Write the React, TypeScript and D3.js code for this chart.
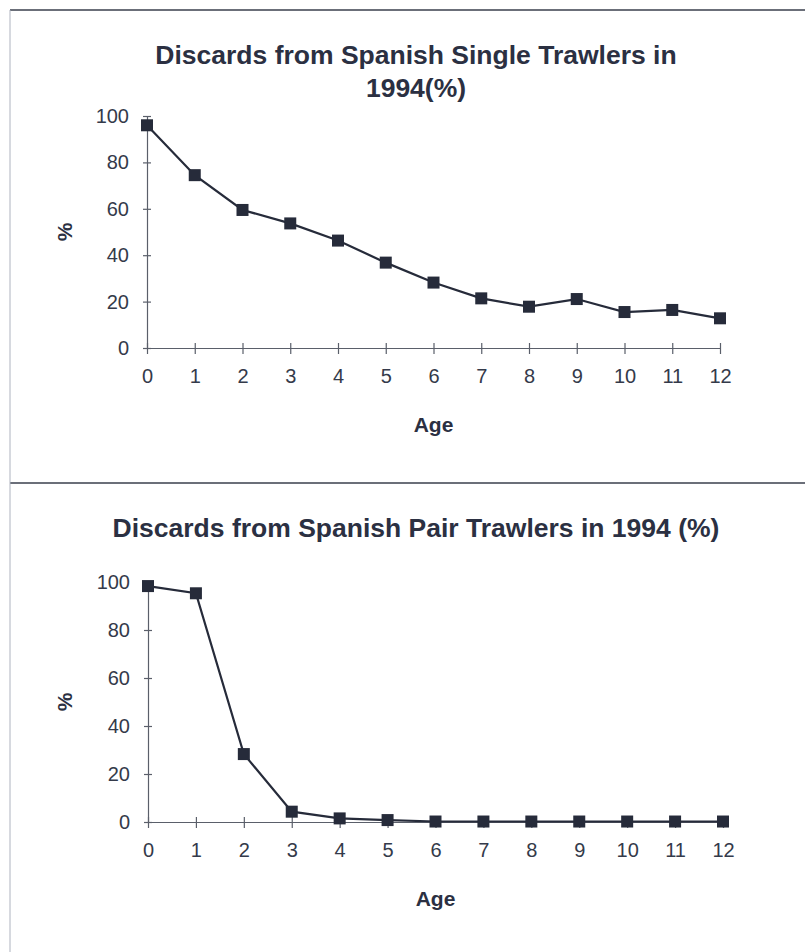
import * as d3 from 'd3';
import { useEffect, useRef } from 'react';

const ages = [0, 1, 2, 3, 4, 5, 6, 7, 8, 9, 10, 11, 12];
const singleTrawlers = [96, 74.5, 59.5, 53.7, 46.3, 36.8, 28.2, 21.4, 17.8, 21.1, 15.5, 16.4, 12.8];
const pairTrawlers = [98.3, 95.3, 28.3, 4.3, 1.5, 0.8, 0.2, 0.2, 0.2, 0.2, 0.2, 0.2, 0.2];
const yTicks = [0, 20, 40, 60, 80, 100];

const ink = '#262b3a';
const axisColor = '#5a5f6a';
const font = '"Liberation Sans", Arial, sans-serif';

export default function App() {
  const w = 805;
  const h = 952;
  const svgRef = useRef<SVGSVGElement>(null);

  useEffect(() => {
    if (svgRef.current == null) {
      return;
    }
    const svg = d3.select(svgRef.current);
    svg.selectAll('*').remove();

    // frame lines of the scanned page
    svg.append('line').attr('x1', 10).attr('y1', 10).attr('x2', w).attr('y2', 10)
      .attr('stroke', '#3a3f4c').attr('stroke-width', 1.5);
    svg.append('line').attr('x1', 10).attr('y1', 483).attr('x2', w).attr('y2', 483)
      .attr('stroke', '#3a3f4c').attr('stroke-width', 1.5);
    svg.append('line').attr('x1', 10).attr('y1', 10).attr('x2', 10).attr('y2', h)
      .attr('stroke', '#aeb3bf').attr('stroke-width', 1);

    function drawPanel(
      values: number[],
      titleLines: string[],
      titleY: number,
      xRange: [number, number],
      yRange: [number, number],
    ) {
      const g = svg.append('g');
      const xScale = d3.scaleLinear().domain([0, 12]).range(xRange);
      const yScale = d3.scaleLinear().domain([0, 100]).range(yRange);
      const y0 = yScale(0);
      const x0 = xScale(0);

      titleLines.forEach((t, i) => {
        g.append('text')
          .attr('x', 416)
          .attr('y', titleY + i * 33)
          .attr('text-anchor', 'middle')
          .style('font', `bold 26.5px ${font}`)
          .attr('fill', '#2b3042')
          .text(t);
      });

      const xAxis = d3.axisBottom(xScale).tickValues(ages).tickSize(6).tickSizeOuter(0).tickPadding(15);
      const gx = g.append('g').attr('transform', `translate(0, ${y0})`).call(xAxis);
      gx.selectAll('.tick line').attr('y1', -5);

      const yAxis = d3.axisLeft(yScale).tickValues(yTicks).tickSize(4).tickSizeOuter(0).tickPadding(14);
      const gy = g.append('g').attr('transform', `translate(${x0}, 0)`).call(yAxis);
      gy.selectAll('.tick line').attr('x1', 4);

      [gx, gy].forEach((a) => {
        a.selectAll('path, line').attr('stroke', axisColor).attr('stroke-width', 1.2);
        a.selectAll('text')
          .style('font', `20px ${font}`)
          .attr('fill', '#343a4a');
      });

      g.append('text')
        .attr('x', (xRange[0] + xRange[1]) / 2)
        .attr('y', y0 + 84)
        .attr('text-anchor', 'middle')
        .style('font', `bold 21px ${font}`)
        .attr('fill', '#2b3042')
        .text('Age');

      g.append('text')
        .attr('transform', `translate(72, ${(yRange[0] + yRange[1]) / 2}) rotate(-90)`)
        .attr('text-anchor', 'middle')
        .style('font', `bold 21px ${font}`)
        .attr('fill', '#2b3042')
        .text('%');

      const line = d3
        .line<number>()
        .x((_, i) => xScale(ages[i]))
        .y((d) => yScale(d));
      g.append('path')
        .attr('d', line(values))
        .attr('fill', 'none')
        .attr('stroke', ink)
        .attr('stroke-width', 2.2);

      const s = 12;
      g.selectAll('rect.marker')
        .data(values)
        .enter()
        .append('rect')
        .attr('x', (_, i) => xScale(ages[i]) - s / 2)
        .attr('y', (d) => yScale(d) - s / 2)
        .attr('width', s)
        .attr('height', s)
        .attr('fill', ink);
    }

    drawPanel(singleTrawlers, ['Discards from Spanish Single Trawlers in', '1994(%)'], 64, [147, 720], [348, 116]);
    drawPanel(pairTrawlers, ['Discards from Spanish Pair Trawlers in 1994 (%)'], 537, [148, 723], [822, 582]);
  }, []);

  return (
    <svg
      ref={svgRef}
      width={w}
      height={h}
      style={{ position: 'absolute', left: 0, top: 0, background: '#fff' }}
    ></svg>
  );
}
